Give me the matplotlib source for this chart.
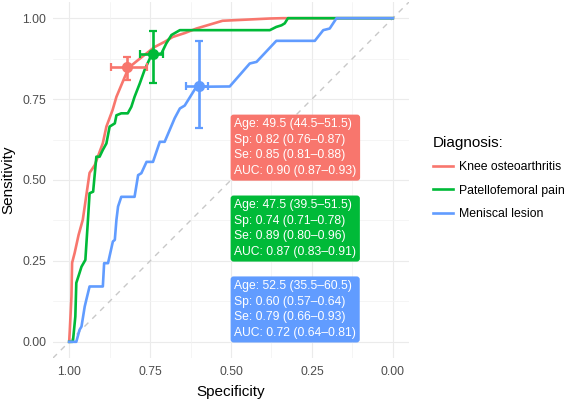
import matplotlib
matplotlib.use("Agg")
import matplotlib.pyplot as plt
from matplotlib.lines import Line2D

plt.rcParams['font.family'] = ['Liberation Sans', 'DejaVu Sans']

diagnoses = ["Knee osteoarthritis", "Patellofemoral pain", "Meniscal lesion"]
colors = ["#F8766D", "#00BA38", "#619CFF"]

# ROC curves (specificity, sensitivity)
koa_spec = [1.0, 0.998, 0.993, 0.991, 0.983, 0.971, 0.958, 0.952, 0.937, 0.921, 0.896, 0.885,
            0.866, 0.854, 0.828, 0.816, 0.788, 0.736, 0.705, 0.680, 0.643, 0.607, 0.526, 0.38, 0.34, 0.0]
koa_sens = [0.0, 0.037, 0.14, 0.244, 0.275, 0.33, 0.377, 0.418, 0.522, 0.546, 0.614, 0.665,
            0.716, 0.757, 0.819, 0.847, 0.870, 0.911, 0.927, 0.942, 0.954, 0.968, 0.992, 0.999, 1.0, 1.0]

pfp_spec = [1.0, 0.99, 0.988, 0.985, 0.981, 0.978, 0.968, 0.962, 0.950, 0.942, 0.937, 0.926, 0.916,
            0.906, 0.896, 0.885, 0.875, 0.859, 0.854, 0.839, 0.819, 0.808, 0.798, 0.782, 0.767,
            0.746, 0.715, 0.700, 0.684, 0.658, 0.380, 0.360, 0.344, 0.334, 0.324, 0.0]
pfp_sens = [0.0, 0.0, 0.006, 0.037, 0.078, 0.182, 0.213, 0.232, 0.253, 0.377, 0.459, 0.464, 0.572,
            0.572, 0.593, 0.613, 0.665, 0.675, 0.70, 0.706, 0.706, 0.726, 0.757, 0.798, 0.840,
            0.886, 0.891, 0.922, 0.948, 0.963, 0.963, 0.973, 0.978, 0.984, 1.0, 1.0]

ml_spec = [1.0, 0.978, 0.968, 0.962, 0.952, 0.947, 0.937, 0.896, 0.892, 0.880, 0.865, 0.859, 0.854,
           0.849, 0.839, 0.798, 0.787, 0.777, 0.761, 0.741, 0.720, 0.705, 0.674, 0.658, 0.643,
           0.607, 0.504, 0.442, 0.421, 0.360, 0.241, 0.215, 0.195, 0.174, 0.0]
ml_sens = [0.0, 0.0, 0.037, 0.047, 0.109, 0.130, 0.171, 0.171, 0.243, 0.243, 0.310, 0.315, 0.377,
           0.418, 0.448, 0.448, 0.515, 0.521, 0.556, 0.556, 0.618, 0.618, 0.691, 0.721, 0.730,
           0.788, 0.789, 0.860, 0.865, 0.930, 0.930, 0.963, 0.968, 1.0, 1.0]

curves_spec = [koa_spec, pfp_spec, ml_spec]
curves_sens = [koa_sens, pfp_sens, ml_sens]

# Optimal cut-off points with CIs
sp = [0.82, 0.74, 0.60]
sp_lo = [0.76, 0.71, 0.57]
sp_hi = [0.87, 0.78, 0.64]
se = [0.85, 0.89, 0.79]
se_lo = [0.81, 0.80, 0.66]
se_hi = [0.88, 0.96, 0.93]
age = ["49.5 (44.5–51.5)", "47.5 (39.5–51.5)", "52.5 (35.5–60.5)"]
auc = ["0.90 (0.87–0.93)", "0.87 (0.83–0.91)", "0.72 (0.64–0.81)"]
label_y = [0.60, 0.35, 0.10]

fig = plt.figure(figsize=(5.64, 3.99), dpi=100)
ax = fig.add_axes([53/564, 1-358/399, 356/564, 356/399])

ax.set_xlim(1.05, -0.05)
ax.set_ylim(-0.05, 1.05)

# grid
for v in [0, 0.25, 0.5, 0.75, 1.0]:
    ax.axvline(v, color="#EBEBEB", lw=0.8, zorder=0)
    ax.axhline(v, color="#EBEBEB", lw=0.8, zorder=0)
for v in [0.125, 0.375, 0.625, 0.875]:
    ax.axvline(v, color="#F2F2F2", lw=0.5, zorder=0)
    ax.axhline(v, color="#F2F2F2", lw=0.5, zorder=0)

ax.plot([1.05, -0.05], [-0.05, 1.05], color="#C8C8C8", lw=1.0, ls=(0, (4, 4)), zorder=1)

for i in range(3):
    ax.plot(curves_spec[i], curves_sens[i], color=colors[i], lw=1.9, zorder=2,
            solid_joinstyle='round', label=diagnoses[i])
for i in range(3):
    ax.errorbar(sp[i], se[i],
                xerr=[[sp[i]-sp_lo[i]], [sp_hi[i]-sp[i]]],
                yerr=[[se[i]-se_lo[i]], [se_hi[i]-se[i]]],
                fmt='o', color=colors[i], ms=7, elinewidth=1.9, capsize=3, capthick=1.6, zorder=3)

for i in range(3):
    txt = f"Age: {age[i]}\nSp: {sp[i]:.2f} ({sp_lo[i]:.2f}–{sp_hi[i]:.2f})\nSe: {se[i]:.2f} ({se_lo[i]:.2f}–{se_hi[i]:.2f})\nAUC: {auc[i]}"
    ax.text(0.49, label_y[i], txt, ha='left', va='center', color='white', fontsize=8.7,
            linespacing=1.4, zorder=4,
            bbox=dict(boxstyle='round,pad=0.3,rounding_size=0.25', fc=colors[i], ec='none'))

for s in ax.spines.values():
    s.set_visible(False)
ax.set_xticks([1.0, 0.75, 0.5, 0.25, 0.0])
ax.set_xticklabels(["1.00", "0.75", "0.50", "0.25", "0.00"])
ax.set_yticks([0.0, 0.25, 0.5, 0.75, 1.0])
ax.set_yticklabels(["0.00", "0.25", "0.50", "0.75", "1.00"])
ax.tick_params(length=0, labelsize=8.8, labelcolor="#4D4D4D")
ax.tick_params(axis='x', pad=6)
ax.tick_params(axis='y', pad=5)
ax.set_xlabel("Specificity", fontsize=11, labelpad=5)
ax.set_ylabel("Sensitivity", fontsize=11, labelpad=5)

handles = [Line2D([0], [0], color=c, lw=1.9) for c in colors]
leg = fig.legend(handles, diagnoses, loc='center left', bbox_to_anchor=(423/564, 1-178/399),
                 frameon=False, title="Diagnosis:", fontsize=8.8, title_fontsize=11,
                 handlelength=1.65, handletextpad=0.5, labelspacing=0.92, borderpad=0.3)
leg._legend_box.align = "left"

fig.savefig("out.png", dpi=100)
